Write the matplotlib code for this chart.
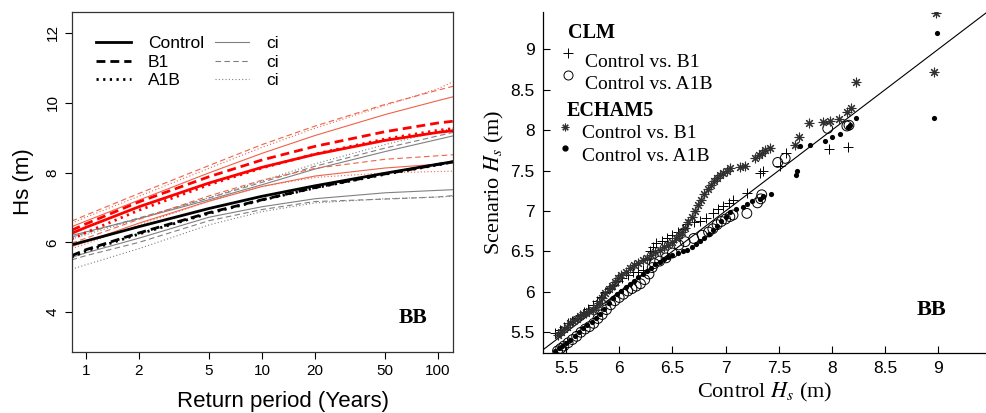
import numpy as np
import matplotlib.pyplot as plt
from matplotlib.lines import Line2D

plt.rcParams['font.family'] = ['Liberation Sans', 'DejaVu Sans']
plt.rcParams['mathtext.fontset'] = 'stix'

# ---- left panel: return level curves ----
period = [0.83, 1, 2, 5, 10, 20, 50, 100, 122]

blk_ctl = [5.93, 6.04, 6.45, 6.97, 7.32, 7.62, 7.98, 8.24, 8.31]
blk_b1 = [5.62, 5.79, 6.27, 6.85, 7.22, 7.57, 7.96, 8.23, 8.31]
blk_a1b = [5.58, 5.75, 6.24, 6.83, 7.21, 7.56, 7.95, 8.22, 8.30]

gci_ctl_hi = [6.20, 6.30, 6.68, 7.22, 7.65, 8.10, 8.60, 8.95, 9.05]
gci_ctl_lo = [5.57, 5.70, 6.12, 6.72, 7.02, 7.25, 7.42, 7.49, 7.51]
gci_b1_hi = [6.15, 6.27, 6.70, 7.27, 7.72, 8.18, 8.70, 9.05, 9.15]
gci_b1_lo = [5.50, 5.62, 6.00, 6.62, 6.94, 7.17, 7.24, 7.30, 7.34]
gci_a1b_hi = [6.10, 6.22, 6.68, 7.28, 7.76, 8.25, 8.80, 9.17, 9.27]
gci_a1b_lo = [5.23, 5.36, 5.82, 6.50, 6.88, 7.13, 7.25, 7.30, 7.32]

red_ctl = [6.26, 6.43, 7.02, 7.70, 8.15, 8.52, 8.92, 9.15, 9.20]
red_b1 = [6.35, 6.53, 7.16, 7.88, 8.36, 8.75, 9.17, 9.42, 9.47]
red_a1b = [6.10, 6.28, 6.92, 7.65, 8.13, 8.53, 8.96, 9.21, 9.26]

rci_ctl_hi = [6.45, 6.61, 7.21, 7.99, 8.55, 9.06, 9.66, 10.06, 10.17]
rci_ctl_lo = [5.88, 6.02, 6.55, 7.18, 7.60, 7.90, 8.13, 8.24, 8.28]
rci_b1_hi = [6.61, 6.78, 7.40, 8.20, 8.80, 9.33, 9.95, 10.36, 10.47]
rci_b1_lo = [5.98, 6.12, 6.66, 7.33, 7.78, 8.12, 8.38, 8.48, 8.51]
rci_a1b_hi = [6.55, 6.72, 7.32, 8.12, 8.72, 9.27, 9.92, 10.40, 10.60]
rci_a1b_lo = [5.82, 5.96, 6.50, 7.18, 7.60, 7.86, 7.99, 8.03, 8.04]

xticks_l = [1, 2, 5, 10, 20, 50, 100]
yticks_l = [4, 6, 8, 10, 12]

# ---- right panel: Q-Q points (Control Hs vs scenario Hs) ----
clm_b1_x = [5.40, 5.44, 5.48, 5.52, 5.56, 5.60, 5.63, 5.67, 5.71, 5.75,
            5.79, 5.83, 5.87, 5.91, 5.95, 5.99, 6.03, 6.08, 6.13, 6.18,
            6.22, 6.26, 6.29, 6.32, 6.35, 6.40, 6.45, 6.50, 6.55, 6.60,
            6.64, 6.70, 6.76, 6.82, 6.88, 6.93, 6.98, 7.03, 7.07, 7.20,
            7.32, 7.35, 7.51, 7.57, 7.97, 8.15]
clm_b1_y = [5.49, 5.53, 5.57, 5.61, 5.64, 5.68, 5.71, 5.75, 5.79, 5.84,
            5.89, 5.94, 6.00, 6.05, 6.09, 6.13, 6.17, 6.21, 6.24, 6.25,
            6.27, 6.40, 6.50, 6.56, 6.60, 6.63, 6.66, 6.70, 6.74, 6.78,
            6.84, 6.86, 6.88, 6.91, 6.97, 7.03, 7.06, 7.10, 7.13, 7.22,
            7.47, 7.50, 7.55, 7.72, 7.76, 7.79]

clm_a1b_x = [5.42, 5.45, 5.48, 5.52, 5.56, 5.60, 5.64, 5.68, 5.72, 5.76,
             5.80, 5.84, 5.88, 5.92, 5.96, 6.00, 6.04, 6.08, 6.12, 6.16,
             6.20, 6.24, 6.28, 6.31, 6.33, 6.38, 6.44, 6.50, 6.56, 6.62,
             6.70, 6.78, 6.84, 6.88, 6.92, 6.96, 7.00, 7.04, 7.07, 7.20,
             7.30, 7.33, 7.34, 7.49, 7.56, 7.96, 8.14, 8.16]
clm_a1b_y = [5.27, 5.30, 5.33, 5.37, 5.41, 5.45, 5.50, 5.54, 5.57, 5.61,
             5.67, 5.72, 5.78, 5.84, 5.89, 5.93, 5.97, 6.01, 6.04, 6.07,
             6.10, 6.15, 6.22, 6.30, 6.35, 6.38, 6.42, 6.48, 6.58, 6.62,
             6.66, 6.70, 6.74, 6.78, 6.83, 6.87, 6.90, 6.93, 6.95, 6.97,
             7.10, 7.15, 7.20, 7.60, 7.65, 8.02, 8.05, 8.06]

ech_b1_x = [5.42, 5.45, 5.48, 5.51, 5.54, 5.57, 5.60, 5.63, 5.66, 5.69,
            5.72, 5.75, 5.78, 5.81, 5.84, 5.87, 5.90, 5.93, 5.96, 5.99,
            6.02, 6.06, 6.10, 6.14, 6.18, 6.22, 6.26, 6.30, 6.34, 6.38,
            6.42, 6.46, 6.50, 6.53, 6.56, 6.59, 6.62, 6.65, 6.68, 6.71,
            6.74, 6.77, 6.80, 6.83, 6.86, 6.89, 6.92, 6.95, 6.98, 7.01,
            7.04, 7.14, 7.18, 7.28, 7.31, 7.34, 7.37, 7.42, 7.65, 7.69,
            7.78, 7.92, 7.98, 8.07, 8.14, 8.18, 8.23, 8.96, 8.98]
ech_b1_y = [5.47, 5.50, 5.54, 5.57, 5.61, 5.64, 5.67, 5.70, 5.72, 5.74,
            5.76, 5.78, 5.81, 5.86, 5.92, 5.98, 6.03, 6.07, 6.12, 6.17,
            6.21, 6.25, 6.29, 6.33, 6.36, 6.39, 6.42, 6.45, 6.49, 6.52,
            6.55, 6.58, 6.62, 6.66, 6.70, 6.74, 6.79, 6.86, 6.93, 7.00,
            7.07, 7.14, 7.21, 7.27, 7.32, 7.37, 7.41, 7.44, 7.47, 7.50,
            7.53, 7.54, 7.56, 7.66, 7.69, 7.72, 7.75, 7.78, 7.82, 7.92,
            8.09, 8.10, 8.11, 8.14, 8.22, 8.27, 8.60, 8.72, 9.45]

ech_a1b_x = [5.40, 5.43, 5.46, 5.50, 5.54, 5.58, 5.62, 5.66, 5.70, 5.74,
             5.78, 5.82, 5.86, 5.90, 5.94, 5.98, 6.02, 6.06, 6.10, 6.14,
             6.18, 6.22, 6.26, 6.30, 6.34, 6.38, 6.42, 6.46, 6.50, 6.55,
             6.60, 6.64, 6.68, 6.72, 6.76, 6.80, 6.84, 6.88, 6.92, 6.96,
             7.00, 7.04, 7.10, 7.16, 7.20, 7.25, 7.32, 7.35, 7.43, 7.66,
             7.67, 7.70, 7.79, 7.93, 8.00, 8.08, 8.15, 8.17, 8.23, 8.96,
             8.99]
ech_a1b_y = [5.27, 5.30, 5.33, 5.37, 5.41, 5.46, 5.50, 5.55, 5.59, 5.63,
             5.68, 5.73, 5.79, 5.86, 5.92, 5.97, 6.01, 6.06, 6.10, 6.14,
             6.18, 6.22, 6.26, 6.30, 6.34, 6.37, 6.40, 6.43, 6.46, 6.48,
             6.50, 6.52, 6.55, 6.59, 6.63, 6.67, 6.72, 6.77, 6.82, 6.88,
             6.93, 6.99, 7.03, 7.05, 7.08, 7.12, 7.15, 7.18, 7.21, 7.45,
             7.50, 7.80, 7.82, 7.86, 7.91, 7.95, 8.04, 8.06, 8.15, 8.15,
             9.20]

ticks_r = [5.5, 6, 6.5, 7, 7.5, 8, 8.5, 9]
ticklabels_r = ['5.5', '6', '6.5', '7', '7.5', '8', '8.5', '9']

fig = plt.figure(figsize=(9.87, 4.13), dpi=100)
ax1 = fig.add_axes([0.0729, 0.1477, 0.3861, 0.8233])
ax2 = fig.add_axes([0.5502, 0.1453, 0.4490, 0.8257])

RED_CI = '#F0624A'
GREY = '#808080'
thick = 2.0
thin = 0.8
dash_k = (3.2, 1.8)
dot_k = (0.8, 1.6)
dash_t = (5, 3)
dot_t = (1, 2)

# ci lines first, model curves on top
for hi, lo, ls in [(gci_ctl_hi, gci_ctl_lo, '-'), (gci_b1_hi, gci_b1_lo, dash_t),
                   (gci_a1b_hi, gci_a1b_lo, dot_t)]:
    for c in (hi, lo):
        ln, = ax1.plot(period, c, color=GREY, lw=thin)
        if ls != '-':
            ln.set_dashes(ls)
for hi, lo, ls in [(rci_ctl_hi, rci_ctl_lo, '-'), (rci_b1_hi, rci_b1_lo, dash_t),
                   (rci_a1b_hi, rci_a1b_lo, dot_t)]:
    for c in (hi, lo):
        ln, = ax1.plot(period, c, color=RED_CI, lw=thin)
        if ls != '-':
            ln.set_dashes(ls)

for col, ctl, b1, a1b in [('black', blk_ctl, blk_b1, blk_a1b), ('red', red_ctl, red_b1, red_a1b)]:
    ax1.plot(period, ctl, color=col, lw=thick)
    ax1.plot(period, b1, color=col, lw=thick, dashes=dash_k)
    ax1.plot(period, a1b, color=col, lw=thick, dashes=dot_k)

ax1.set_xscale('log')
ax1.set_xlim(0.833, 122)
ax1.set_ylim(2.86, 12.6)
ax1.set_xticks(xticks_l)
ax1.set_xticklabels([str(t) for t in xticks_l])
ax1.xaxis.set_minor_locator(plt.NullLocator())
ax1.set_yticks(yticks_l)
ax1.set_yticklabels([str(t) for t in yticks_l], rotation=90, va='center')
ax1.tick_params(direction='out', length=5, width=0.8, labelsize=11, pad=4)
for s in ax1.spines.values():
    s.set_linewidth(0.9)
    s.set_color('#333333')
ax1.set_xlabel('Return period (Years)', fontsize=16, labelpad=4)
ax1.xaxis.set_label_coords(0.554, -0.115)
ax1.set_ylabel('Hs (m)', fontsize=16, labelpad=8)
ax1.text(0.858, 0.10, 'BB', transform=ax1.transAxes, fontsize=15.5,
         fontweight='bold', family='Liberation Serif', va='center')

h = [Line2D([], [], color='black', lw=thick),
     Line2D([], [], color='black', lw=thick, dashes=dash_k),
     Line2D([], [], color='black', lw=thick, dashes=dot_k),
     Line2D([], [], color=GREY, lw=thin),
     Line2D([], [], color=GREY, lw=thin, dashes=dash_t),
     Line2D([], [], color=GREY, lw=thin, dashes=dot_t)]
ax1.legend(h, ['Control', 'B1', 'A1B', 'ci', 'ci', 'ci'], ncol=2, frameon=False,
           loc='upper left', bbox_to_anchor=(0.04, 0.955), fontsize=12.5,
           handlelength=2.0, handletextpad=1.0, columnspacing=0.6,
           labelspacing=0.2, borderpad=0)

# ---- right panel ----
ax2.plot([5, 10], [5, 10], color='black', lw=0.8, zorder=1)
ax2.scatter(clm_b1_x, clm_b1_y, marker='+', s=55, color='black', linewidths=0.7, zorder=3)
ax2.scatter(clm_a1b_x, clm_a1b_y, marker='o', s=50, facecolors='none',
            edgecolors='black', linewidths=0.7, zorder=3)
ax2.scatter(ech_b1_x, ech_b1_y, marker=(8, 2, 0), s=40, color='#303030', linewidths=0.8, zorder=3)
ax2.scatter(ech_a1b_x, ech_a1b_y, marker='o', s=14, color='black', linewidths=0, zorder=3)

ax2.set_xlim(5.284, 9.45)
ax2.set_ylim(5.244, 9.46)
ax2.set_xticks(ticks_r)
ax2.set_xticklabels(ticklabels_r)
ax2.set_yticks(ticks_r)
ax2.set_yticklabels(ticklabels_r)
ax2.tick_params(direction='in', length=5, width=0.8, labelsize=12.5, pad=6)
ax2.spines['top'].set_visible(False)
ax2.spines['right'].set_visible(False)
for s in ('left', 'bottom'):
    ax2.spines[s].set_linewidth(0.9)
ax2.set_xlabel('Control $H_s$ (m)', fontsize=16, family='Liberation Serif', labelpad=3)
ax2.set_ylabel('Scenario $H_s$ (m)', fontsize=16, family='Liberation Serif', labelpad=3)

serif = 'Liberation Serif'
ax2.text(0.056, 0.938, 'CLM', transform=ax2.transAxes, fontsize=14.5,
         fontweight='bold', family=serif, va='center')
ax2.plot([0.056], [0.88], marker='+', ms=7, mew=0.7, color='black', transform=ax2.transAxes)
ax2.text(0.095, 0.853, 'Control vs. B1', transform=ax2.transAxes, fontsize=14, family=serif, va='center')
ax2.plot([0.056], [0.815], marker='o', ms=6.5, mew=0.7, mfc='none', color='black', transform=ax2.transAxes)
ax2.text(0.095, 0.786, 'Control vs. A1B', transform=ax2.transAxes, fontsize=14, family=serif, va='center')
ax2.text(0.054, 0.710, 'ECHAM5', transform=ax2.transAxes, fontsize=14.5,
         fontweight='bold', family=serif, va='center')
ax2.plot([0.05], [0.663], marker=(8, 2, 0), ms=5.5, mew=0.8, color='#303030', transform=ax2.transAxes)
ax2.text(0.088, 0.645, 'Control vs. B1', transform=ax2.transAxes, fontsize=14, family=serif, va='center')
ax2.plot([0.05], [0.601], marker='o', ms=3.5, color='black', transform=ax2.transAxes)
ax2.text(0.088, 0.575, 'Control vs. A1B', transform=ax2.transAxes, fontsize=14, family=serif, va='center')
ax2.text(0.844, 0.126, 'BB', transform=ax2.transAxes, fontsize=16,
         fontweight='bold', family=serif, va='center')

fig.savefig('out.png', dpi=100)
